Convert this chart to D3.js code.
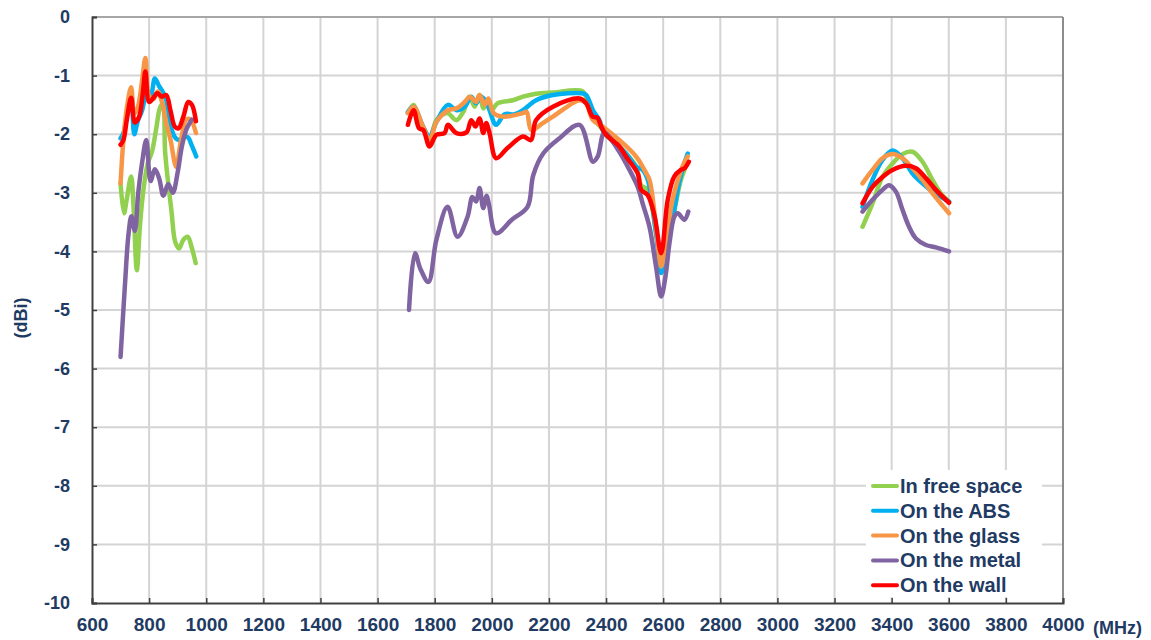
<!DOCTYPE html>
<html>
<head>
<meta charset="utf-8">
<script src="https://cdn.jsdelivr.net/npm/d3@7"></script>
<style>
  html, body { margin: 0; padding: 0; background: #fff; }
  svg { display: block; font-family: "Liberation Sans", Arial, sans-serif; }
</style>
</head>
<body>
<div id="chart"></div>
<script>
// antenna gain vs frequency, three bands per series (null = gap between bands)
const xTicks = [600, 800, 1000, 1200, 1400, 1600, 1800, 2000, 2200, 2400, 2600, 2800, 3000, 3200, 3400, 3600, 3800, 4000];
const yTicks = [0, -1, -2, -3, -4, -5, -6, -7, -8, -9, -10];

const seriesNames = ['In free space', 'On the ABS', 'On the glass', 'On the metal', 'On the wall'];
const seriesColors = ['#92d050', '#00b0f0', '#f79646', '#8064a2', '#ff0000'];

const freeSpace = [
  [700, -2.84], [712, -3.35], [722, -3.1], [737, -2.72], [745, -3.2], [757, -4.32], [768, -3.55],
  [780, -2.95], [795, -2.5], [810, -2.3], [825, -1.9], [838, -1.55], [848, -1.48], [856, -2.3],
  [866, -2.8], [878, -3.3], [892, -3.85], [905, -3.95], [920, -3.8], [935, -3.75], [950, -3.95], [963, -4.2],
  null,
  [1706, -1.64], [1726, -1.5], [1740, -1.66], [1759, -1.87], [1782, -2.07], [1806, -1.76], [1830, -1.66],
  [1846, -1.64], [1876, -1.76], [1900, -1.62], [1922, -1.36], [1940, -1.53], [1957, -1.33], [1971, -1.56],
  [1986, -1.42], [1998, -1.59], [2021, -1.47], [2074, -1.42], [2109, -1.36], [2155, -1.31], [2214, -1.29],
  [2318, -1.27], [2335, -1.45], [2360, -1.75], [2400, -1.98], [2470, -2.33], [2505, -2.55], [2523, -2.87],
  [2546, -2.95], [2575, -3.69], [2593, -4.15], [2612, -3.8], [2639, -3.3], [2662, -2.78], [2686, -2.47],
  null,
  [3298, -3.58], [3333, -3.18], [3368, -2.73], [3403, -2.5], [3438, -2.34], [3473, -2.3], [3508, -2.47],
  [3543, -2.78], [3572, -3.01], [3601, -3.15]
];

const onAbs = [
  [700, -2.07], [710, -1.98], [722, -1.7], [737, -1.3], [748, -2.0], [760, -1.78], [775, -1.6],
  [790, -1.35], [805, -1.35], [820, -1.05], [835, -1.18], [850, -1.3], [862, -1.45], [875, -1.85],
  [890, -2.05], [905, -2.1], [920, -2.05], [935, -2.05], [950, -2.2], [965, -2.38],
  null,
  [1706, -1.62], [1726, -1.53], [1759, -1.87], [1782, -2.04], [1806, -1.79], [1846, -1.5], [1876, -1.59],
  [1905, -1.53], [1928, -1.36], [1945, -1.47], [1962, -1.36], [1980, -1.44], [1992, -1.59], [2015, -1.84],
  [2045, -1.66], [2080, -1.66], [2109, -1.59], [2155, -1.42], [2214, -1.33], [2313, -1.3], [2330, -1.33],
  [2355, -1.6], [2377, -1.76], [2390, -1.95], [2470, -2.33], [2505, -2.55], [2528, -2.61], [2546, -2.78],
  [2575, -3.69], [2593, -4.37], [2612, -4.0], [2633, -3.46], [2655, -2.85], [2674, -2.5], [2686, -2.33],
  null,
  [3298, -3.24], [3333, -2.78], [3368, -2.44], [3403, -2.28], [3438, -2.41], [3473, -2.67], [3508, -2.84],
  [3543, -2.98], [3601, -3.15]
];

const onGlass = [
  [700, -2.84], [710, -2.1], [722, -1.55], [737, -1.2], [748, -1.65], [760, -1.55], [775, -1.1],
  [787, -0.7], [800, -1.35], [815, -1.4], [830, -1.27], [845, -1.45], [860, -1.8], [875, -2.1],
  [895, -2.56], [910, -2.15], [930, -1.75], [945, -1.75], [964, -1.98],
  null,
  [1706, -1.64], [1726, -1.53], [1759, -1.87], [1782, -2.1], [1806, -1.79], [1846, -1.59], [1876, -1.56],
  [1905, -1.45], [1923, -1.36], [1945, -1.45], [1957, -1.33], [1975, -1.5], [1988, -1.39], [2006, -1.64],
  [2040, -1.7], [2109, -1.64], [2122, -1.62], [2138, -1.93], [2176, -1.82], [2214, -1.7], [2307, -1.42],
  [2330, -1.47], [2354, -1.76], [2388, -1.87], [2505, -2.38], [2534, -2.61], [2552, -2.78], [2575, -3.58],
  [2593, -4.26], [2612, -3.75], [2633, -3.12], [2668, -2.55], [2686, -2.38],
  null,
  [3298, -2.84], [3333, -2.61], [3368, -2.41], [3403, -2.34], [3438, -2.41], [3473, -2.58], [3508, -2.78],
  [3543, -3.01], [3601, -3.35]
];

const onMetal = [
  [700, -5.8], [715, -4.6], [728, -3.7], [738, -3.4], [750, -3.65], [762, -3.0], [775, -2.5],
  [790, -2.1], [805, -2.8], [820, -2.6], [835, -2.75], [850, -3.05], [867, -2.85], [883, -3.0],
  [900, -2.65], [915, -2.2], [932, -1.9], [950, -1.75],
  null,
  [1710, -5.0], [1731, -4.03], [1750, -4.3], [1778, -4.52], [1806, -3.8], [1845, -3.24], [1880, -3.75],
  [1915, -3.41], [1932, -3.07], [1945, -3.15], [1957, -2.92], [1970, -3.26], [1982, -3.05], [1990, -3.2],
  [2015, -3.69], [2070, -3.46], [2125, -3.24], [2145, -2.7], [2180, -2.33], [2237, -2.07], [2307, -1.84],
  [2354, -2.47], [2371, -2.38], [2394, -1.98], [2440, -2.25], [2470, -2.5], [2511, -2.9], [2528, -3.18],
  [2552, -3.58], [2575, -4.26], [2593, -4.77], [2608, -4.43], [2622, -3.86], [2639, -3.41], [2651, -3.35],
  [2674, -3.46], [2688, -3.32],
  null,
  [3298, -3.32], [3333, -3.12], [3368, -2.95], [3391, -2.87], [3415, -2.98], [3438, -3.29], [3461, -3.58],
  [3485, -3.78], [3520, -3.89], [3555, -3.93], [3601, -4.0]
];

const onWall = [
  [700, -2.18], [710, -2.1], [722, -1.75], [737, -1.38], [750, -1.8], [765, -1.7], [778, -1.3],
  [787, -0.93], [800, -1.45], [815, -1.38], [828, -1.3], [845, -1.36], [860, -1.33], [875, -1.6],
  [890, -1.87], [903, -1.9], [920, -1.7], [937, -1.45], [950, -1.5], [964, -1.78],
  null,
  [1706, -1.84], [1726, -1.59], [1745, -1.9], [1760, -1.93], [1782, -2.21], [1806, -2.01], [1835, -1.98],
  [1846, -1.84], [1876, -1.98], [1911, -1.97], [1928, -1.76], [1943, -1.87], [1957, -1.73], [1970, -1.98],
  [1980, -1.81], [1992, -1.98], [2015, -2.41], [2054, -2.24], [2109, -2.04], [2137, -2.1], [2155, -1.76],
  [2214, -1.53], [2307, -1.39], [2330, -1.47], [2353, -1.7], [2370, -1.72], [2383, -1.87], [2400, -2.01],
  [2447, -2.21], [2470, -2.38], [2511, -2.67], [2523, -2.95], [2546, -3.04], [2570, -3.4], [2593, -4.03],
  [2616, -3.12], [2639, -2.72], [2662, -2.61], [2675, -2.58], [2690, -2.47],
  null,
  [3298, -3.18], [3333, -2.9], [3368, -2.73], [3403, -2.61], [3450, -2.54], [3485, -2.58], [3520, -2.75],
  [3555, -2.95], [3601, -3.17]
];

const seriesData = [freeSpace, onAbs, onGlass, onMetal, onWall];

(function() {
  const W = 1151, H = 640;
  const left = 92, right = 1063, top = 17, bottom = 603;
  const textColor = '#1f3b63';

  const svg = d3.select('#chart').append('svg')
    .attr('width', W)
    .attr('height', H);

  const x = d3.scaleLinear().domain([600, 4000]).range([left, right]);
  const y = d3.scaleLinear().domain([-10, 0]).range([bottom, top]);

  // grid
  svg.append('g')
    .selectAll('line.vgrid')
    .data(xTicks.filter(t => t > 600 && t < 4000))
    .enter().append('line')
    .attr('x1', d => x(d)).attr('x2', d => x(d))
    .attr('y1', top).attr('y2', bottom)
    .attr('stroke', '#d4d4d4').attr('stroke-width', 2);

  svg.append('g')
    .selectAll('line.hgrid')
    .data(yTicks.filter(t => t > -10 && t < 0))
    .enter().append('line')
    .attr('x1', left).attr('x2', right)
    .attr('y1', d => y(d)).attr('y2', d => y(d))
    .attr('stroke', '#d4d4d4').attr('stroke-width', 2);

  // top and right border
  svg.append('line')
    .attr('x1', left).attr('x2', right).attr('y1', y(0)).attr('y2', y(0))
    .attr('stroke', '#a6a6a6').attr('stroke-width', 2);
  svg.append('line')
    .attr('x1', x(4000)).attr('x2', x(4000)).attr('y1', top).attr('y2', bottom)
    .attr('stroke', '#8c8c8c').attr('stroke-width', 2);

  // axes
  const xAxis = svg.append('g')
    .attr('transform', `translate(0,${bottom})`)
    .call(d3.axisBottom(x).tickValues(xTicks).tickSize(-5).tickPadding(15).tickFormat(d3.format('d')));
  const yAxis = svg.append('g')
    .attr('transform', `translate(${left},0)`)
    .call(d3.axisLeft(y).tickValues(yTicks).tickSize(-5).tickPadding(22).tickFormat(d => d));

  [xAxis, yAxis].forEach(g => {
    g.select('.domain').attr('stroke', '#404040').attr('stroke-width', 2);
    g.selectAll('.tick line').attr('stroke', '#404040').attr('stroke-width', 1.5);
    g.selectAll('.tick text')
      .attr('fill', textColor)
      .attr('font-family', '"Liberation Sans", Arial, sans-serif')
      .attr('font-weight', 'bold');
  });
  xAxis.selectAll('.tick text').attr('font-size', '19px');
  yAxis.selectAll('.tick text').attr('font-size', '18px');

  // axis titles
  svg.append('text')
    .attr('transform', `translate(27,${(top + bottom) / 2 + 8}) rotate(-90)`)
    .attr('text-anchor', 'middle')
    .attr('fill', textColor)
    .attr('font-size', '18px')
    .attr('font-weight', 'bold')
    .text('(dBi)');

  svg.append('text')
    .attr('x', 1093)
    .attr('y', 634)
    .attr('fill', textColor)
    .attr('font-size', '18px')
    .attr('font-weight', 'bold')
    .text('(MHz)');

  // series lines
  const line = d3.line()
    .defined(d => d !== null)
    .x(d => x(d[0]))
    .y(d => y(d[1]))
    .curve(d3.curveCatmullRom.alpha(0.5));

  seriesData.forEach((data, i) => {
    svg.append('path')
      .datum(data)
      .attr('fill', 'none')
      .attr('stroke', seriesColors[i])
      .attr('stroke-width', 4.5)
      .attr('stroke-linejoin', 'round')
      .attr('stroke-linecap', 'round')
      .attr('d', line);
  });

  // legend
  const lg = svg.append('g');
  lg.append('rect')
    .attr('x', 866).attr('y', 470)
    .attr('width', 176).attr('height', 127)
    .attr('fill', '#fff');

  seriesNames.forEach((name, i) => {
    const ly = 486 + i * 24.8;
    lg.append('line')
      .attr('x1', 873).attr('x2', 897)
      .attr('y1', ly).attr('y2', ly)
      .attr('stroke', seriesColors[i])
      .attr('stroke-width', 4)
      .attr('stroke-linecap', 'round');
    lg.append('text')
      .attr('x', 900)
      .attr('y', ly)
      .attr('dy', '0.35em')
      .attr('fill', textColor)
      .attr('font-size', '20px')
      .attr('font-weight', 'bold')
      .text(name);
  });
})();
</script>
</body>
</html>
